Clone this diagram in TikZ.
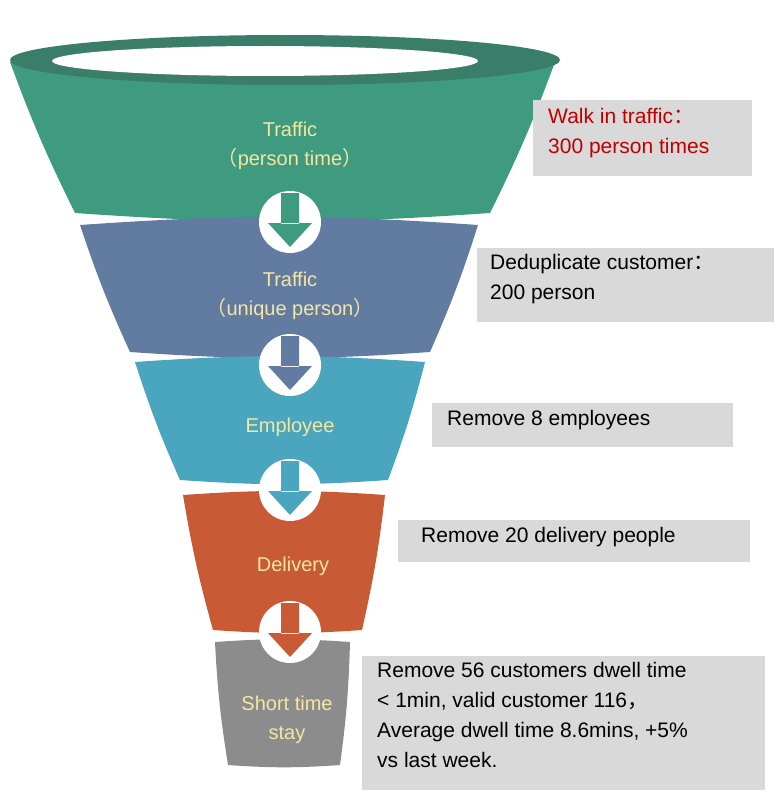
\documentclass[tikz,border=0pt]{standalone}
\usepackage{fontspec}
\setmainfont{Liberation Sans}
\newfontfamily\cjk{Noto Sans CJK SC}
\usepackage{tikz}
\usetikzlibrary{positioning}
\definecolor{segA}{HTML}{3F9B7F}
\definecolor{rimA}{HTML}{3A7D68}
\definecolor{segB}{HTML}{627BA1}
\definecolor{segC}{HTML}{4AA6BE}
\definecolor{segD}{HTML}{C85A36}
\definecolor{segE}{HTML}{8C8C8C}
\definecolor{boxgray}{HTML}{D9D9D9}
\definecolor{labcol}{HTML}{F5E6A0}
\definecolor{redtxt}{HTML}{C00000}
\newcommand{\lp}{{\cjk （}}
\newcommand{\rp}{{\cjk ）}}
\newcommand{\fc}{{\cjk ：}}
\newcommand{\fcm}{{\cjk ，}}
\begin{document}
\begin{tikzpicture}[x=1pt,y=-1pt]
\tikzstyle{seglabel}=[text=labcol,font=\fontsize{20}{29}\selectfont,align=center]
\tikzstyle{note}=[fill=boxgray,font=\fontsize{21}{30}\selectfont,align=left,anchor=north west,inner sep=0pt]
\useasboundingbox (0,0) rectangle (776,792);
% funnel segments: x-left-top/x-right-top/y-top/x-left-bottom/x-right-bottom/y-bottom/colour
\foreach \xa/\xb/\ya/\xc/\xd/\yb/\col in {
	10/555/62/75/490/213/segA,
	80/478/225/130/430/352/segB,
	135/425/362/180/388/480/segC,
	183/385/495/213/362/630/segD,
	215/350/642/228/340/765/segE}
	\fill[\col] (\xa,\ya) to[bend left=4] (\xb,\ya) to[bend left=3] (\xd,\yb) to[bend left=4] (\xc,\yb) to[bend left=3] cycle;
% rim
\fill[rimA] (285,60) ellipse (275 and 25);
\fill[white] (265,61) ellipse (213 and 15);
% connectors
\foreach \y/\col in {222/segA,365/segB,490/segC,632/segD} {
	\fill[white] (290,\y) circle (31);
	\fill[\col] (281,\y-29) rectangle (299,\y+2) (268,\y+1) -- (312,\y+1) -- (290,\y+25) -- cycle;
}
\node[seglabel] (lab1) at (290,146) {Traffic\\\lp person time\rp};
\node[seglabel] (lab2) at (290,296) {Traffic\\\lp unique person\rp};
\node[seglabel] (lab3) at (290,427) {Employee};
\node[seglabel] (lab4) at (293,566) {Delivery};
\node[seglabel] (lab5) at (287,720) {Short time\\stay};
\fill[boxgray] (533,100) rectangle (752,176);
\node[note,text=redtxt] (note1) at (548,108) {Walk in traffic\fc\\300 person times};
\fill[boxgray] (477,248) rectangle (774,322);
\node[note] (note2) at (490,254) {Deduplicate customer\fc\\200 person};
\fill[boxgray] (432,403) rectangle (733,447);
\node[note] (note3) at (447,410) {Remove 8 employees};
\fill[boxgray] (398,520) rectangle (750,562);
\node[note] (note4) at (421,527) {Remove 20 delivery people};
\fill[boxgray] (362,656) rectangle (765,790);
\node[note] (note5) at (377,662) {Remove 56 customers dwell time\\< 1min, valid customer 116\fcm\\Average dwell time 8.6mins, +5\%\\vs last week.};
\end{tikzpicture}
\end{document}
